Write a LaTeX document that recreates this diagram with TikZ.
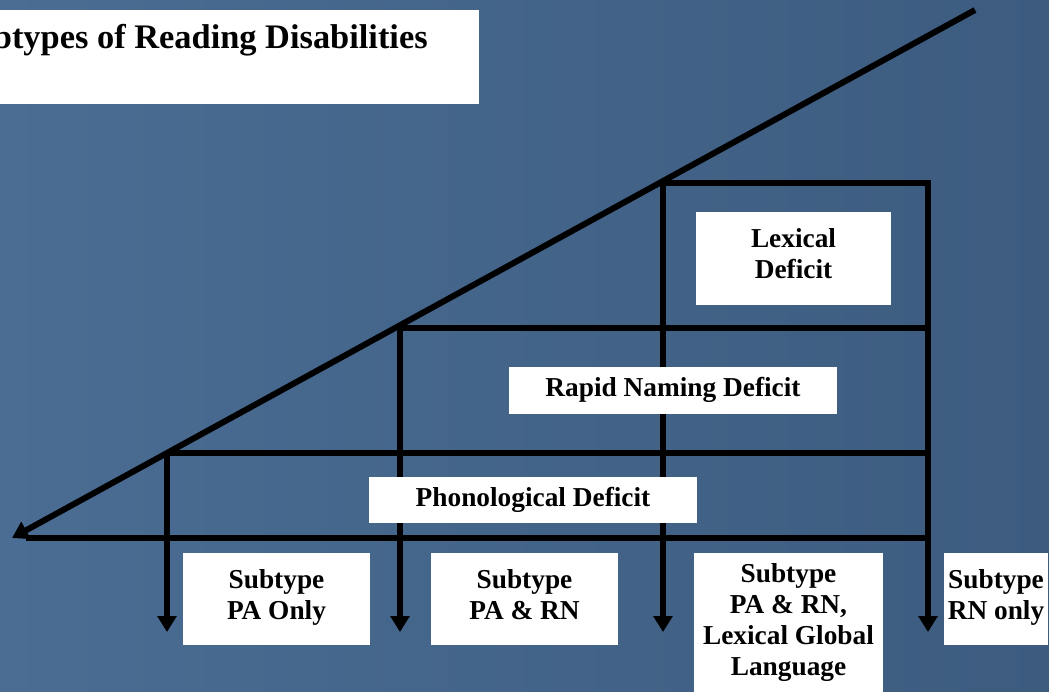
\documentclass[tikz,border=0pt]{standalone}
\usepackage{fontspec}
\setmainfont{Liberation Serif}
\usetikzlibrary{arrows.meta}

\definecolor{bgleft}{RGB}{75,109,147}
\definecolor{bgright}{RGB}{60,91,127}

\begin{document}
\begin{tikzpicture}[
  x=0.75pt, y={(0,-0.75pt)},
  >={Triangle[length=12pt,width=14pt]},
  every node/.style={font=\fontsize{20.5}{23.25}\selectfont\bfseries},
  box/.style={fill=white, align=center, inner sep=2pt,
              execute at begin node=\strut, execute at end node=\strut},
  subbox/.style={box, minimum width=140.25pt, minimum height=69pt},
  bar/.style={line width=4.5pt},
]
\useasboundingbox (0,0) rectangle (1049,692);
\clip (0,0) rectangle (1049,692);
\shade[left color=bgleft, right color=bgright] (0,0) rectangle (1049,692);

% title
\node[fill=white, minimum width=405pt, minimum height=70.5pt, inner sep=0,
      anchor=north east] (titlebox) at (479,10) {};
\node[anchor=base east, inner sep=0, font=\fontsize{25.8}{30}\selectfont\bfseries]
      (title) at (428,49) {Subtypes of Reading Disabilities};

% diagonal and levels
\coordinate (top) at (975,10);
\coordinate (tip) at (12,538);
\coordinate (p1) at (167,453);
\coordinate (p2) at (400,328);
\coordinate (p3) at (663,183);
\coordinate (h0) at (26,538);
\coordinate (r0) at (928,538);
\coordinate (r1) at (928,453);
\coordinate (r2) at (928,328);
\coordinate (q1) at (167,632);
\coordinate (q2) at (400,632);
\coordinate (q3) at (663,632);
\coordinate (q4) at (928,632);

\draw[bar] (r0) -- (h0);
\draw[bar] (p1) -- (r1);
\draw[bar] (p2) -- (r2);
\draw[bar, ->] (top) -- (tip);
\draw[bar, ->] (p3) -| (q4);
\draw[bar, ->] (p1) -- (q1);
\draw[bar, ->] (p2) -- (q2);
\draw[bar, ->] (p3) -- (q3);

% deficits
\node[box, minimum width=146.25pt, minimum height=69.75pt] (lex) at (793.5,258.5) {Lexical\\Deficit};
\node[box, minimum width=246pt, minimum height=35.25pt] (rapid) at (673,390.5) {Rapid Naming Deficit};
\node[box, minimum width=246pt, minimum height=34.5pt] (phon) at (533,500) {Phonological Deficit};

% subtypes
\node[subbox] (paonly) at (276.5,599) {Subtype\\PA Only};
\node[subbox] (parn) at (524.5,599) {Subtype\\PA \& RN};
\node[subbox, minimum width=141.75pt, minimum height=106.5pt] (palex) at (788.5,624)
      {Subtype\\PA \& RN,\\Lexical Global\\Language};
\node[subbox, minimum width=78pt] (rnonly) at (996,599) {Subtype\\RN only};
\end{tikzpicture}
\end{document}
